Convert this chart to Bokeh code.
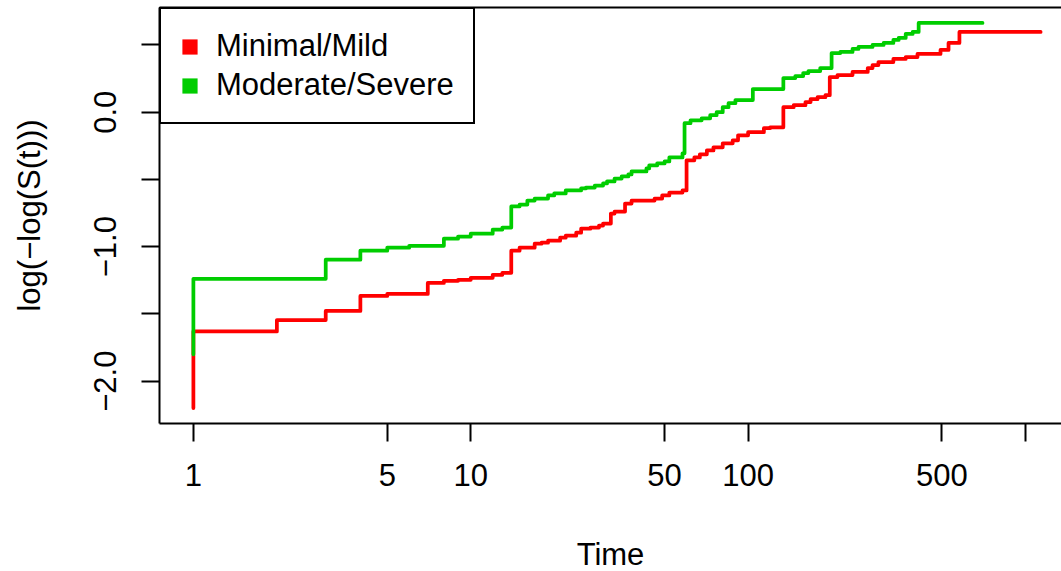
import math
from bokeh.plotting import figure
from bokeh.models import FixedTicker, CustomJSTickFormatter, LinearAxis, Range1d, Legend
from bokeh.embed import file_html
from bokeh.resources import INLINE

# ---- data ----
groups = ["Minimal/Mild", "Moderate/Severe"]
colors = ["#FF0000", "#00CD00"]

red_time = [1, 1, 2, 3, 4, 5, 7, 8, 9, 10, 12, 13, 14, 15, 17, 18, 19, 21, 22, 24,
            25, 27, 29, 30, 32, 33, 36, 38, 46, 49, 52, 58, 60, 64, 67, 71, 75, 81, 88, 92,
            100, 114, 120, 134, 146, 161, 168, 178, 190, 197, 210, 238, 270, 281, 295, 334, 370, 408, 494, 528,
            578, 1134]
red_val = [-2.20, -1.63, -1.545, -1.478, -1.366, -1.351, -1.269, -1.254, -1.246, -1.231,
           -1.209, -1.194, -1.03, -1.007, -0.978, -0.970, -0.955, -0.933, -0.918, -0.896,
           -0.866, -0.858, -0.843, -0.828, -0.754, -0.739, -0.679, -0.657, -0.642, -0.619,
           -0.597, -0.582, -0.358, -0.336, -0.313, -0.284, -0.261, -0.231, -0.209, -0.172,
           -0.149, -0.119, -0.112, 0.037, 0.052, 0.075, 0.097, 0.112, 0.127, 0.261,
           0.276, 0.299, 0.328, 0.351, 0.373, 0.396, 0.410, 0.433, 0.463, 0.515,
           0.597, 0.597]

green_time = [1, 1, 3, 4, 5, 6, 8, 9, 10, 12, 13, 14, 15, 16, 17, 19, 20, 22, 25, 26,
              28, 30, 31, 33, 35, 37, 38, 43, 44, 47, 50, 52, 58, 59, 62, 68, 73, 77, 81, 85,
              90, 104, 134, 148, 158, 165, 182, 200, 215, 238, 250, 281, 308, 334, 349, 370, 392, 412, 700]
green_val = [-1.80, -1.239, -1.097, -1.030, -1.007, -0.993, -0.940, -0.925, -0.903, -0.873,
             -0.858, -0.701, -0.687, -0.657, -0.642, -0.619, -0.604, -0.582, -0.567, -0.560,
             -0.545, -0.530, -0.515, -0.493, -0.478, -0.463, -0.440, -0.418, -0.396, -0.381,
             -0.366, -0.336, -0.306, -0.082, -0.060, -0.045, -0.022, 0.000, 0.037, 0.067,
             0.090, 0.172, 0.254, 0.269, 0.291, 0.306, 0.328, 0.440, 0.448, 0.470,
             0.485, 0.500, 0.515, 0.537, 0.552, 0.582, 0.597, 0.664, 0.664]

x_ticks = [1, 5, 10, 50, 100, 500]
x_minor_ticks = [1000]
y_ticks = [-2.0, -1.0, 0.0]
y_minor_ticks = [-1.5, -0.5, 0.5]

# ---- ranges (R style 4% extension) ----
lo = math.log10(min(red_time + green_time))
hi = math.log10(max(red_time + green_time))
xpad = 0.04 * (hi - lo)
FRAME_W, FRAME_H = 902, 416
full_span = (hi - lo) + 2 * xpad
x_start = 10 ** (lo - xpad)
x_end = 10 ** (lo - xpad + full_span * FRAME_W / 915.0)

ymin = min(red_val + green_val)
ymax = max(red_val + green_val)
ypad = 0.04 * (ymax - ymin)

FONT = "Liberation Sans"
FS = "31px"

p = figure(frame_width=FRAME_W, frame_height=FRAME_H, x_axis_type="log",
           x_range=Range1d(x_start, x_end), y_range=Range1d(ymin - ypad, ymax + ypad),
           output_backend="svg", toolbar_location=None,
           min_border_left=159, min_border_right=0, min_border_top=7, min_border_bottom=148)
p.outline_line_color = None
p.grid.visible = False
p.background_fill_color = "white"
p.border_fill_color = "white"

for ax in (p.xaxis[0], p.yaxis[0]):
    ax.axis_line_width = 2
    ax.axis_line_color = "black"
    ax.major_tick_line_width = 2
    ax.minor_tick_line_width = 2
    ax.major_tick_in = 0
    ax.major_tick_out = 18
    ax.minor_tick_in = 0
    ax.minor_tick_out = 18
    ax.major_label_text_font = FONT
    ax.major_label_text_font_size = FS
    ax.major_label_text_color = "black"
    ax.axis_label_text_font = FONT
    ax.axis_label_text_font_size = FS
    ax.axis_label_text_font_style = "normal"
    ax.axis_label_text_color = "black"

p.xaxis.ticker = FixedTicker(ticks=x_ticks, minor_ticks=x_minor_ticks)
p.xaxis.formatter = CustomJSTickFormatter(code="return String(Math.round(tick));")
p.xaxis.major_label_standoff = 22
p.xaxis.axis_label = "Time"
p.xaxis.axis_label_standoff = 48

p.yaxis.ticker = FixedTicker(ticks=y_ticks, minor_ticks=y_minor_ticks)
p.yaxis.formatter = CustomJSTickFormatter(code="return tick.toFixed(1).replace('-', '\u2212');")
p.yaxis.major_label_orientation = "vertical"
p.yaxis.major_label_standoff = 25
p.yaxis.axis_label = "log(\u2212log(S(t)))"
p.yaxis.axis_label_standoff = 45

# top border line of the box
top = LinearAxis(ticker=FixedTicker(ticks=[]), axis_line_width=2, axis_line_color="black",
                 major_tick_in=0, major_tick_out=0, minor_tick_in=0, minor_tick_out=0,
                 major_label_text_font_size="0px", major_label_standoff=0)
p.add_layout(top, "above")

# step curves
p.step(red_time, red_val, mode="after", line_color=colors[0], line_width=3.75,
       line_join="round", line_cap="round")
p.step(green_time, green_val, mode="after", line_color=colors[1], line_width=3.75,
       line_join="round", line_cap="round")

# legend keys: filled squares (the quads themselves lie outside the visible ranges)
r1 = p.quad(left=[1e5], right=[2e5], top=[10], bottom=[9], fill_color=colors[0], line_color=None)
r2 = p.quad(left=[1e5], right=[2e5], top=[10], bottom=[9], fill_color=colors[1], line_color=None)
legend = Legend(items=[(groups[0], [r1]), (groups[1], [r2])], location="top_left",
                margin=0, padding=19, spacing=3, glyph_width=19, glyph_height=19,
                label_standoff=17, label_height=36, label_text_font=FONT,
                label_text_font_size=FS, label_text_color="black",
                border_line_color="black", border_line_width=2, border_line_alpha=1.0,
                background_fill_color="white", background_fill_alpha=1.0)
p.add_layout(legend)

open("out.html", "w", encoding="utf-8").write(file_html(p, INLINE))
